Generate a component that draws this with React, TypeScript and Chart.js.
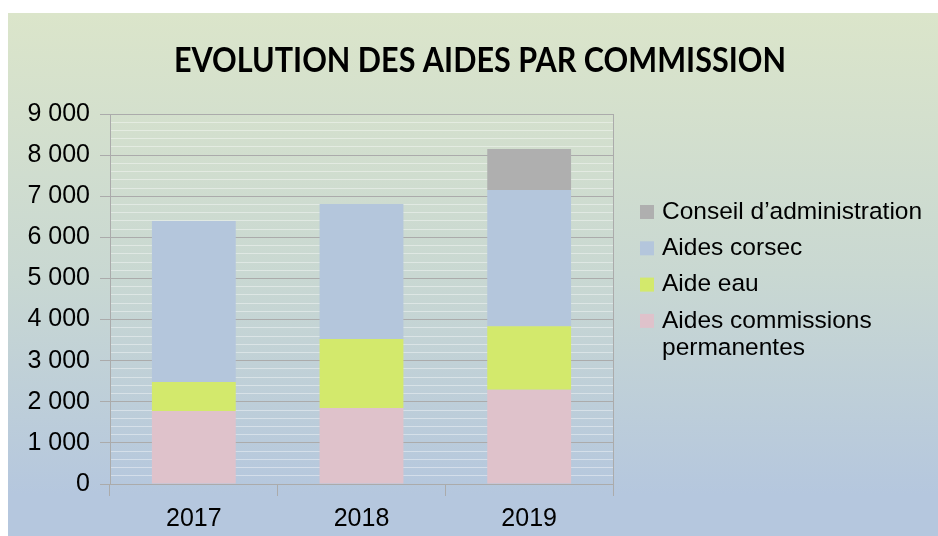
import React, { useEffect, useRef } from "react";
import { Chart, registerables } from "chart.js";

Chart.register(...registerables);

const TITLE = "EVOLUTION DES AIDES PAR COMMISSION";
const years = ["2017", "2018", "2019"];
const commissionsPermanentes = [1775, 1850, 2295];
const aideEau = [705, 1680, 1545];
const aidesCorsec = [3920, 3280, 3310];
const conseilAdministration = [0, 0, 1000];
const yMajorTicks = [0, 1000, 2000, 3000, 4000, 5000, 6000, 7000, 8000, 9000];
const yMinorStep = 200;

const GRID_MAJOR = "#ababab";
const GRID_MINOR = "rgba(255,255,255,0.4)";
const FONT = "'Liberation Sans', Arial, sans-serif";

const fmt = (v: number) => String(v).replace(/\B(?=(\d{3})+(?!\d))/g, " ");

const overlayPlugin = {
  id: "overlay",
  afterDraw(chart: any) {
    const ctx = chart.ctx as CanvasRenderingContext2D;
    ctx.save();
    // title
    ctx.fillStyle = "#000";
    ctx.font = "bold 35px Lato, 'Open Sans', sans-serif";
    ctx.textAlign = "center";
    ctx.textBaseline = "alphabetic";
    ctx.fillText(TITLE, 472, 59, 612);

    // legend (reverse order, like the stack)
    ctx.font = "24.5px " + FONT;
    ctx.textAlign = "left";
    ctx.textBaseline = "middle";
    const ds = chart.data.datasets;
    let y = 199;
    const boxX = 632;
    const textX = 654;
    const maxW = 272;
    for (let i = ds.length - 1; i >= 0; i--) {
      const words = String(ds[i].label).split(" ");
      const lines: string[] = [];
      let cur = "";
      for (const w of words) {
        const t = cur ? cur + " " + w : w;
        if (ctx.measureText(t).width > maxW && cur) {
          lines.push(cur);
          cur = w;
        } else cur = t;
      }
      if (cur) lines.push(cur);
      ctx.fillStyle = ds[i].backgroundColor;
      ctx.fillRect(boxX, y - 7, 14, 14);
      ctx.fillStyle = "#000";
      lines.forEach((l, k) => ctx.fillText(l, textX, y + k * 27));
      y += 36.3;
    }
    ctx.restore();
  },
};

export default function App() {
  const ref = useRef<HTMLCanvasElement | null>(null);
  useEffect(() => {
    if (!ref.current) return;
    const chart = new Chart(ref.current, {
      type: "bar",
      data: {
        labels: years,
        datasets: [
          { label: "Aides commissions permanentes", data: commissionsPermanentes, backgroundColor: "#dfc2cb" },
          { label: "Aide eau", data: aideEau, backgroundColor: "#d3e96c" },
          { label: "Aides corsec", data: aidesCorsec, backgroundColor: "#b4c6dc" },
          { label: "Conseil d\u2019administration", data: conseilAdministration, backgroundColor: "#afafaf" },
        ],
      },
      options: {
        responsive: false,
        animation: false,
        devicePixelRatio: 1,
        layout: { padding: { top: 101, right: 325, left: 0, bottom: 0 } },
        datasets: { bar: { categoryPercentage: 1, barPercentage: 0.5, borderWidth: 0 } },
        plugins: { legend: { display: false }, title: { display: false }, tooltip: { enabled: false } },
        scales: {
          x: {
            stacked: true,
            afterFit: (s: any) => { s.height = 52; },
            grid: {
              offset: true,
              color: (c: any) => (c.type === "tick" ? "transparent" : GRID_MAJOR),
              tickColor: GRID_MAJOR,
              tickLength: 12,
              lineWidth: 1,
            },
            border: { display: true, color: GRID_MAJOR },
            ticks: { color: "#000", font: { family: FONT, size: 25 }, padding: 8 },
          },
          y: {
            stacked: true,
            min: yMajorTicks[0],
            max: yMajorTicks[yMajorTicks.length - 1],
            afterFit: (s: any) => { s.width = 102; },
            grid: {
              color: (c: any) => (c.tick && c.tick.value % 1000 === 0 ? GRID_MAJOR : GRID_MINOR),
              tickColor: (c: any) => (c.tick && c.tick.value % 1000 === 0 ? GRID_MAJOR : "transparent"),
              tickLength: 10,
              lineWidth: 1,
            },
            border: { display: true, color: GRID_MAJOR },
            ticks: {
              stepSize: yMinorStep,
              autoSkip: false,
              color: "#000",
              padding: 10,
              font: { family: FONT, size: 25 },
              callback: (v: any) => (yMajorTicks.includes(Number(v)) ? fmt(Number(v)) : ""),
            },
          },
        },
      },
      plugins: [overlayPlugin],
    });
    return () => chart.destroy();
  }, []);
  return (
    <div
      style={{
        position: "absolute",
        left: 8,
        top: 13,
        width: 930,
        height: 523,
        background: "linear-gradient(180deg, #dbe5ca 0%, #c9d8d2 50%, #b5c7de 92%, #b5c7de 100%)",
      }}
    >
      <canvas ref={ref} width={930} height={523} style={{ display: "block" }} />
    </div>
  );
}
